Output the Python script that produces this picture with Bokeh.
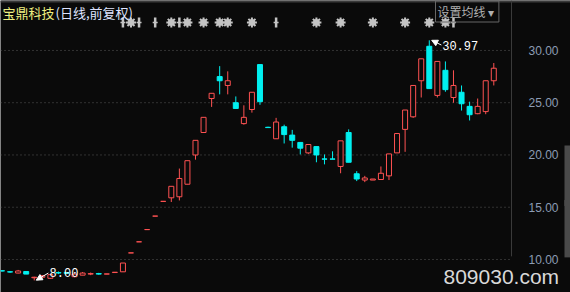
import numpy as np
from bokeh.plotting import figure
from bokeh.models import (ColumnDataSource, Range1d, Label, Arrow, NormalHead,
                          BoxAnnotation)
from bokeh.embed import file_html
from bokeh.resources import INLINE
from bokeh.core.properties import value

# ---- data ----
opens = [8.92, 8.82, 8.70, 8.85, 8.25, 8.30, 8.20, 8.75, 8.75, 8.35,
         8.50, 8.60, 8.65, 8.60, 8.75, 8.82, 10.63, 11.69, 12.86, 14.15,
         15.56, 15.90, 16.00, 17.20, 20.00, 22.15, 25.40, 27.50, 26.65, 25.00,
         23.00, 24.35, 28.65, 22.65, 21.55, 22.70, 21.90, 21.20, 20.20, 20.80,
         19.62, 19.62, 18.90, 22.15, 18.20, 17.60, 17.60, 17.65, 18.00, 20.20,
         22.45, 23.65, 27.10, 30.40, 25.70, 28.10, 25.50, 26.00, 24.65, 23.95,
         24.15, 27.10]
closes = [8.90, 8.80, 8.90, 8.60, 8.30, 8.45, 8.55, 8.70, 8.68, 8.60,
          8.70, 8.65, 8.60, 8.62, 8.78, 9.66, 10.63, 11.69, 12.86, 14.15,
          15.56, 17.00, 17.75, 19.45, 21.40, 23.60, 25.90, 27.10, 27.10, 24.45,
          23.60, 26.00, 25.10, 22.62, 23.15, 21.95, 21.40, 20.65, 21.00, 20.00,
          19.60, 19.60, 21.35, 19.30, 17.70, 17.80, 17.70, 18.25, 20.10, 22.05,
          24.30, 26.65, 29.20, 26.35, 28.95, 26.25, 26.65, 24.90, 23.85, 24.65,
          27.10, 28.30]
highs = [8.98, 8.90, 9.00, 8.85, 8.35, 8.50, 8.60, 8.85, 8.80, 8.65,
         8.80, 8.75, 8.72, 8.62, 8.78, 9.66, 10.63, 11.69, 12.86, 14.15,
         15.56, 17.00, 18.70, 19.45, 21.40, 23.60, 25.90, 28.50, 28.00, 25.60,
         24.75, 26.00, 28.65, 22.70, 23.55, 22.90, 22.40, 21.20, 21.00, 20.80,
         20.05, 20.35, 21.35, 22.45, 18.45, 18.00, 17.70, 18.90, 20.10, 22.05,
         24.30, 26.65, 29.20, 30.97, 28.95, 28.95, 28.10, 26.65, 25.10, 25.40,
         27.10, 28.80]
lows = [8.85, 8.72, 8.68, 8.60, 8.00, 8.25, 8.15, 8.60, 8.60, 8.30,
        8.50, 8.50, 8.55, 8.60, 8.75, 8.82, 10.63, 11.69, 12.86, 14.15,
        15.56, 15.50, 15.65, 17.20, 19.55, 22.15, 24.60, 25.80, 25.80, 24.45,
        22.90, 24.05, 24.80, 22.60, 21.55, 21.10, 20.70, 20.05, 20.10, 19.30,
        19.10, 19.60, 18.25, 19.30, 17.50, 17.40, 17.60, 17.65, 17.60, 20.20,
        20.30, 23.55, 25.50, 26.35, 25.50, 26.05, 25.00, 24.25, 23.30, 23.90,
        23.90, 26.65]
price_ticks = [10, 15, 20, 25, 30]
star_events = [16, 21, 23, 25, 27, 28, 31, 39, 42, 46, 50, 53, 55]
bar_events = [15, 17, 19, 22, 34, 56]

title_name = "宝鼎科技"
title_sub = "(日线,前复权)"
button_text = "设置均线  ▾"
watermark = "809030.com"

# ---- layout / style ----
W, H = 570, 292
PX_PER_BAR = 8.062
X0 = -0.186
X1 = X0 + W / PX_PER_BAR
Y0, Y1 = 6.84, 34.78
PX_PER_UNIT = H / (Y1 - Y0)
SEP_X = X0 + 511 / PX_PER_BAR        # price-axis separator
LABEL_X = X0 + 558 / PX_PER_BAR      # right edge of price labels
BG = "#0a0a0a"
UP = "#ff5252"
DOWN = "#00f0f0"
MARK = "#c4c4c4"

n = len(opens)
idx = list(range(n))
up = [c >= o for o, c in zip(opens, closes)]
src = ColumnDataSource(dict(
    x=idx, open=opens, close=closes, high=highs, low=lows,
    top=[max(o, c) for o, c in zip(opens, closes)],
    bottom=[min(o, c) for o, c in zip(opens, closes)],
    color=[UP if u else DOWN for u in up],
    fill=[BG if u else DOWN for u in up],
))

p = figure(width=W, height=H, output_backend="svg", toolbar_location=None,
           x_range=Range1d(X0, X1), y_range=Range1d(Y0, Y1),
           x_axis_location=None, y_axis_location=None,
           min_border=0, background_fill_color=BG, border_fill_color=BG,
           outline_line_color=None)
p.xgrid.grid_line_color = None
p.ygrid.grid_line_color = None

# price grid (dotted) and price scale on the right
p.segment(x0=[X0] * len(price_ticks), x1=[SEP_X] * len(price_ticks),
          y0=price_ticks, y1=price_ticks, line_color="#5a5a5a", line_dash="1 3")
p.segment(x0=[SEP_X], x1=[SEP_X], y0=[10.3], y1=[Y1], line_color="#3a3a3a", line_width=1)
p.text(x=[LABEL_X] * len(price_ticks), y=price_ticks,
       text=[f"{t:.2f}" for t in price_ticks], text_align="right",
       text_baseline="middle", text_color="#8c9cb4",
       text_font=value("Liberation Sans"), text_font_size="12px")

# candles
p.segment(x0="x", y0="high", x1="x", y1="low", color="color", line_width=1, source=src)
p.vbar(x="x", width=0.62, top="top", bottom="bottom", fill_color="fill",
       line_color="color", line_width=1, source=src)

# event markers row
level = 32.68
p.scatter(x=star_events, y=[level] * len(star_events), marker="asterisk", size=10,
          line_color=MARK, line_width=2)
p.scatter(x=star_events, y=[level] * len(star_events), marker="circle", size=6,
          fill_color=MARK, line_color=MARK)
p.scatter(x=bar_events, y=[level] * len(bar_events), marker="dash", angle=np.pi / 2,
          size=10, line_color=MARK, line_width=2.5)
p.scatter(x=bar_events, y=[level] * len(bar_events), marker="dash", size=5,
          line_color=MARK, line_width=1.5)

# high / low annotations
hi_i = int(np.argmax(highs))
lo_i = int(np.argmin(lows))
hi_v = highs[hi_i]
lo_v = lows[lo_i]
p.add_layout(Arrow(end=NormalHead(size=6, fill_color="white", line_color="white"),
                   x_start=hi_i + 1.5, y_start=hi_v - 0.45, x_end=hi_i + 0.3, y_end=hi_v,
                   line_color="white", line_width=1))
p.add_layout(Label(x=hi_i + 1.6, y=hi_v - 0.48, text=f"{hi_v:.2f}", text_color="white",
                   text_font="Liberation Mono", text_font_size="12px",
                   text_baseline="middle", text_align="left"))
p.add_layout(Arrow(end=NormalHead(size=6, fill_color="white", line_color="white"),
                   x_start=lo_i + 1.75, y_start=lo_v + 0.7, x_end=lo_i + 0.25, y_end=lo_v + 0.02,
                   line_color="white", line_width=1))
p.add_layout(Label(x=lo_i + 1.9, y=lo_v + 0.8, text=f"{lo_v:.2f}", text_color="white",
                   text_font="Liberation Mono", text_font_size="12px",
                   text_baseline="middle", text_align="left"))

# top border line
p.add_layout(BoxAnnotation(bottom=Y1 - 0.2, top=Y1, fill_color="#3a3a3a", fill_alpha=1,
                           line_color=None))

# scrollbar at the right edge
SB_L = X0 + 564 / PX_PER_BAR
p.add_layout(BoxAnnotation(left=SB_L, right=X1, top=20.9, bottom=10.2,
                           fill_color="#4a4a4a", fill_alpha=1, line_color=None))
p.scatter(x=[SB_L + 0.25], y=[15.4], marker="triangle", angle=-np.pi / 2, size=6,
          fill_color="#e8e8e8", line_color=None)

# title
p.add_layout(Label(x=2, y=280, x_units="screen", y_units="screen", text=title_name,
                   text_color="#eeee80", text_font="Noto Sans CJK SC",
                   text_font_size="13px", text_baseline="middle"))
p.add_layout(Label(x=55, y=280, x_units="screen", y_units="screen", text=title_sub,
                   text_color="#dfe4ff", text_font="Noto Sans CJK SC",
                   text_font_size="13px", text_baseline="middle"))
p.add_layout(Label(x=435, y=281, x_units="screen", y_units="screen", text=button_text,
                   text_color="#b0b0b0", text_font="Noto Sans CJK SC",
                   text_font_size="12px", text_baseline="middle",
                   border_line_color="#666666", padding=2))

# watermark (text glyph, vertically centred well inside the canvas)
p.text(x=[X0 + 443 / PX_PER_BAR], y=[Y0 + 16 / PX_PER_UNIT], text=[watermark],
       text_align="left", text_baseline="middle", text_color="#d8d8d8",
       text_font=value("Liberation Sans"), text_font_size="21px")

open("out.html", "w").write(file_html(p, INLINE))
